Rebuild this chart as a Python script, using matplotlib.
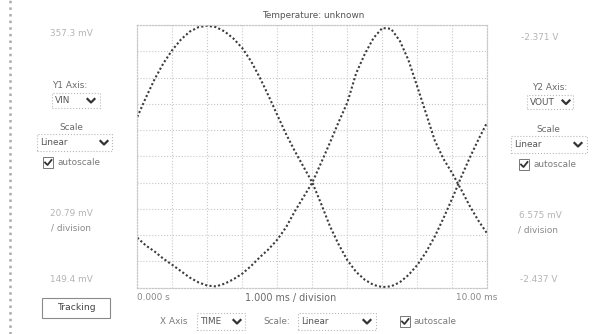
import matplotlib
matplotlib.use("Agg")
import matplotlib.pyplot as plt
from matplotlib.patches import Rectangle
from matplotlib.lines import Line2D

# time axis, ms
t_ms = [0.0, 0.25, 0.5, 0.75, 1.0, 1.25, 1.5, 1.75, 2.0, 2.25, 2.5, 2.75, 3.0, 3.25,
        3.5, 3.75, 4.0, 4.25, 4.5, 4.75, 5.0, 5.25, 5.5, 5.75, 6.0, 6.25, 6.5, 6.75,
        7.0, 7.25, 7.5, 7.75, 8.0, 8.25, 8.5, 8.75, 9.0, 9.25, 9.5, 9.75, 10.0]

# Y1 trace, mV
vin_mv = [284.5, 300.1, 314.7, 327.2, 337.5, 345.9, 352.1, 355.6, 356.7, 355.6, 352.1,
          346.5, 339.0, 328.6, 315.7, 301.2, 286.0, 271.0, 257.5, 245.0, 232.6, 215.9,
          198.3, 183.7, 171.2, 161.9, 155.6, 151.5, 149.8, 150.4, 153.6, 159.4, 167.3,
          177.5, 189.9, 204.5, 220.1, 236.7, 252.3, 266.9, 280.4]

# Y2 trace, V
vout_v = [-2.4245, -2.4265, -2.4280, -2.4298, -2.4313, -2.4329, -2.4345, -2.4357,
          -2.4365, -2.4367, -2.4360, -2.4349, -2.4335, -2.4316, -2.4294, -2.4274,
          -2.4250, -2.4219, -2.4179, -2.4143, -2.4107, -2.4058, -2.4008, -2.3956,
          -2.3907, -2.3834, -2.3785, -2.3745, -2.3720, -2.3722, -2.3752, -2.3801,
          -2.3867, -2.3934, -2.4002, -2.4048, -2.4084, -2.4124, -2.4166, -2.4203,
          -2.4235]

y1_range = (149.4, 357.3)      # mV
y2_range = (-2.437, -2.37125)  # V
x_range = (0.0, 10.0)          # ms

W, H = 599, 334
fig = plt.figure(figsize=(W / 100, H / 100), dpi=100)
plt.rcParams['font.family'] = ['DejaVu Sans']


def fx(x):
    return x / W


def fy(y):
    return 1 - y / H


def label(x, y, s, color='#6a6a6a', ha='center', size=6.4):
    fig.text(fx(x), fy(y), s, ha=ha, va='center', color=color, fontsize=size)


def box(x0, y0, x1, y1, ec='#b8b8b8', ls=':', lw=0.8):
    fig.patches.append(Rectangle((fx(x0), fy(y1)), fx(x1 - x0), (y1 - y0) / H,
                                 transform=fig.transFigure, fill=False,
                                 ec=ec, ls=ls, lw=lw))


def chevron(cx, cy):
    fig.add_artist(Line2D([fx(cx - 3.5), fx(cx), fx(cx + 3.5)],
                          [fy(cy - 1.5), fy(cy + 2), fy(cy - 1.5)],
                          transform=fig.transFigure, color='#333333', lw=1.6))


def dropdown(x0, y0, x1, y1, text, cx):
    box(x0, y0, x1, y1)
    label(x0 + 3, (y0 + y1) / 2, text, color='#555555', ha='left')
    chevron(cx, (y0 + y1) / 2)


def checkbox(x0, y0, text):
    box(x0, y0, x0 + 10, y0 + 11, ec='#777777', ls='-', lw=0.7)
    fig.add_artist(Line2D([fx(x0 + 2), fx(x0 + 4.5), fx(x0 + 8.5)],
                          [fy(y0 + 5.5), fy(y0 + 8), fy(y0 + 3)],
                          transform=fig.transFigure, color='#333333', lw=1.3))
    label(x0 + 14, y0 + 5.5, text, color='#7a7a7a', ha='left')


# plot area
ax = fig.add_axes([fx(137.3), fy(287.6), fx(350), 262.6 / H])
ax2 = ax.twinx()
ax.plot(t_ms, vin_mv, color='#3c3c3c', lw=1.5, ls=(0, (1, 1.1)))
ax2.plot(t_ms, vout_v, color='#3c3c3c', lw=1.5, ls=(0, (1, 1.1)))
ax.set_xlim(*x_range)
ax.set_ylim(*y1_range)
ax2.set_ylim(*y2_range)
ax.set_xticks([x_range[0] + i for i in range(11)])
ax.set_yticks([y1_range[0] + i * (y1_range[1] - y1_range[0]) / 10 for i in range(11)])
ax.grid(True, color='#c8c8c8', ls=':', lw=0.8)
ax.tick_params(length=0, labelbottom=False, labelleft=False)
ax2.tick_params(length=0, labelright=False)
for a in (ax, ax2):
    for sp in a.spines.values():
        sp.set_color('#c8c8c8')
        sp.set_linestyle(':')
        sp.set_linewidth(0.8)

label(313, 16, 'Temperature: unknown', color='#555555')

# left border
fig.add_artist(Line2D([fx(9.5), fx(9.5)], [0, 1], transform=fig.transFigure,
                      color='#ababab', ls=':', lw=1.8))

# left panel
label(71, 34, '357.3 mV', color='#b4b4b4')
label(70, 86, 'Y1 Axis:')
dropdown(52, 93, 100, 108, 'VIN', 91)
label(71, 128, 'Scale')
dropdown(37, 134, 112, 151, 'Linear', 104)
checkbox(43, 157, 'autoscale')
label(71, 214, '20.79 mV', color='#b4b4b4')
label(71, 228, '/ division', color='#8a8a8a')
label(71, 280, '149.4 mV', color='#b4b4b4')
box(42, 298, 110, 318, ec='#8a8a8a', ls='-', lw=0.8)
label(76, 308, 'Tracking', color='#444444', size=6.7)

# right panel
label(540, 37, '-2.371 V', color='#b4b4b4')
label(550, 87, 'Y2 Axis:')
dropdown(527, 95, 573, 109, 'VOUT', 566)
label(548, 129, 'Scale')
dropdown(511, 136, 587, 153, 'Linear', 578)
checkbox(519, 159, 'autoscale')
label(540, 215, '6.575 mV', color='#b4b4b4')
label(538, 230, '/ division', color='#8a8a8a')
label(539, 280, '-2.437 V', color='#b4b4b4')

# bottom row
label(137, 298, '0.000 s', color='#8a8a8a', ha='left')
label(291, 298, '1.000 ms / division', color='#6a6a6a', size=6.9)
label(497, 298, '10.00 ms', color='#8a8a8a', ha='right')
label(160, 322, 'X Axis', color='#7a7a7a', ha='left')
dropdown(197, 313, 245, 330, 'TIME', 237)
label(263, 322, 'Scale:', color='#7a7a7a', ha='left')
dropdown(298, 313, 376, 330, 'Linear', 367)
checkbox(400, 316, 'autoscale')

fig.savefig('out.png', dpi=100)
